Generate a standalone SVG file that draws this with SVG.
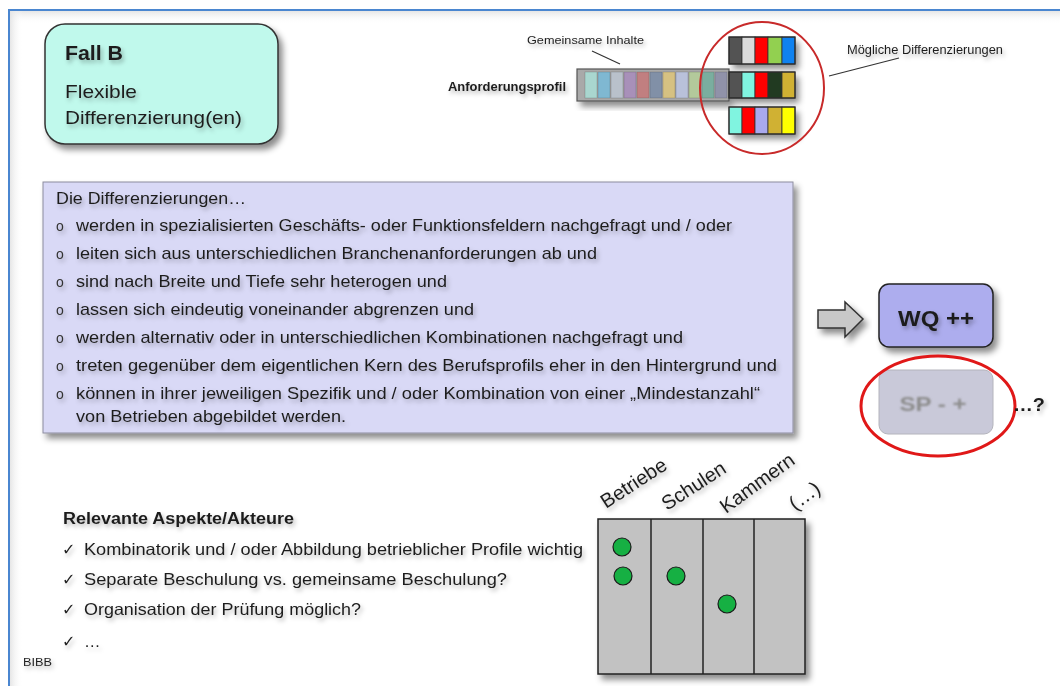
<svg xmlns="http://www.w3.org/2000/svg" width="1060" height="686" viewBox="0 0 1060 686">
  <defs>
    <filter id="boxShadow" x="-10%" y="-10%" width="130%" height="140%">
      <feDropShadow dx="4" dy="5" stdDeviation="3" flood-color="#000" flood-opacity="0.45"/>
    </filter>
    <filter id="textShadow" x="-5%" y="-40%" width="115%" height="200%">
      <feDropShadow dx="2" dy="3" stdDeviation="2" flood-color="#000" flood-opacity="0.28"/>
    </filter>
    <filter id="soft" x="-10%" y="-20%" width="120%" height="140%">
      <feGaussianBlur stdDeviation="0.9"/>
    </filter>
    <linearGradient id="edgeTop" x1="0" y1="0" x2="0" y2="1">
      <stop offset="0" stop-color="#e2e2e2"/>
      <stop offset="1" stop-color="#ffffff" stop-opacity="0"/>
    </linearGradient>
    <linearGradient id="edgeLeft" x1="0" y1="0" x2="1" y2="0">
      <stop offset="0" stop-color="#e2e2e2"/>
      <stop offset="1" stop-color="#ffffff" stop-opacity="0"/>
    </linearGradient>
  </defs>
  <style>
    .t { font-family: "Liberation Sans", Arial, sans-serif; fill: #1e1e1e; }
    .b { font-weight: bold; }
    .body { font-size: 17px; }
    .chk { font-family: "DejaVu Sans", sans-serif; font-size: 16px; fill: #1e1e1e; }
    .bul { font-family: "Liberation Sans", Arial, sans-serif; font-size: 14px; fill: #333; }
    .slot { stroke: #333; stroke-width: 0.8; }
    .row { fill: none; stroke: #2a2a2a; stroke-width: 1.2; }
    .dot { fill: #16b043; stroke: #1a1a1a; stroke-width: 1.2; }
    .col { stroke: #222; stroke-width: 1.5; }
    .lead { stroke: #333; stroke-width: 1.2; fill: none; }
    .ring { fill: none; }
    .lbl { font-size: 20px; }
  </style>

  <!-- page frame -->
  <rect x="0" y="0" width="1060" height="686" fill="#ffffff"/>
  <rect x="9" y="10" width="1051" height="14" fill="url(#edgeTop)"/>
  <rect x="9" y="10" width="14" height="676" fill="url(#edgeLeft)"/>
  <line x1="8" y1="10" x2="1060" y2="10" stroke="#4a86d0" stroke-width="2"/>
  <line x1="9" y1="10" x2="9" y2="686" stroke="#4a86d0" stroke-width="2"/>

  <!-- title card -->
  <g id="title">
    <rect x="45" y="24" width="233" height="120" rx="20" fill="#c0f9ec" stroke="#333" stroke-width="1.5" filter="url(#boxShadow)"/>
    <g filter="url(#textShadow)">
      <text class="t b" x="65" y="60" font-size="19.5" textLength="58" lengthAdjust="spacingAndGlyphs">Fall B</text>
      <text class="t" x="65" y="98" font-size="19" textLength="72" lengthAdjust="spacingAndGlyphs">Flexible</text>
      <text class="t" x="65" y="124" font-size="19" textLength="177" lengthAdjust="spacingAndGlyphs">Differenzierung(en)</text>
    </g>
  </g>

  <!-- requirement profile: shared contents -->
  <g id="profile">
    <rect x="577" y="69" width="152" height="32" fill="#a9a9a9" stroke="#555" stroke-width="1.2" filter="url(#boxShadow)"/>
    <g class="slot" stroke-opacity="0.25">
      <rect x="585" y="72" width="12" height="26" fill="#a9d6cf"/>
      <rect x="598" y="72" width="12" height="26" fill="#7fb8d2"/>
      <rect x="611" y="72" width="12" height="26" fill="#b9c1cb"/>
      <rect x="624" y="72" width="12" height="26" fill="#a890b9"/>
      <rect x="637" y="72" width="12" height="26" fill="#c17f80"/>
      <rect x="650" y="72" width="12" height="26" fill="#8190a7"/>
      <rect x="663" y="72" width="12" height="26" fill="#d6c182"/>
      <rect x="676" y="72" width="12" height="26" fill="#b9c1da"/>
      <rect x="689" y="72" width="12" height="26" fill="#b3c99b"/>
      <rect x="702" y="72" width="12" height="26" fill="#7aae9f"/>
      <rect x="715" y="72" width="12" height="26" fill="#9092a9"/>
    </g>
    <g filter="url(#textShadow)">
      <text class="t b" x="448" y="91" font-size="13" textLength="118" lengthAdjust="spacingAndGlyphs">Anforderungsprofil</text>
      <text class="t" x="527" y="44" font-size="11.5" textLength="117" lengthAdjust="spacingAndGlyphs">Gemeinsame Inhalte</text>
    </g>
  </g>

  <!-- possible differentiations -->
  <g id="differenzierungen">
    <g filter="url(#boxShadow)">
      <rect x="729" y="37" width="66" height="27" fill="#555"/>
      <rect x="729" y="72" width="66" height="26" fill="#555"/>
      <rect x="729" y="107" width="66" height="27" fill="#555"/>
    </g>
    <g class="slot">
      <rect x="729" y="37" width="13" height="27" fill="#535353"/>
      <rect x="742" y="37" width="13" height="27" fill="#dadada"/>
      <rect x="755" y="37" width="13" height="27" fill="#ff0000"/>
      <rect x="768" y="37" width="14" height="27" fill="#92d050"/>
      <rect x="782" y="37" width="13" height="27" fill="#0f82f0"/>

      <rect x="729" y="72" width="13" height="26" fill="#535353"/>
      <rect x="742" y="72" width="13" height="26" fill="#80f4e0"/>
      <rect x="755" y="72" width="13" height="26" fill="#ff0000"/>
      <rect x="768" y="72" width="14" height="26" fill="#213a21"/>
      <rect x="782" y="72" width="13" height="26" fill="#d0b133"/>

      <rect x="729" y="107" width="13" height="27" fill="#80f4e0"/>
      <rect x="742" y="107" width="13" height="27" fill="#ff0000"/>
      <rect x="755" y="107" width="13" height="27" fill="#a9a9ee"/>
      <rect x="768" y="107" width="14" height="27" fill="#d0b133"/>
      <rect x="782" y="107" width="13" height="27" fill="#ffff00"/>
    </g>
    <rect class="row" x="729" y="37" width="66" height="27"/>
    <rect class="row" x="729" y="72" width="66" height="26"/>
    <rect class="row" x="729" y="107" width="66" height="27"/>
    <ellipse class="ring" cx="762" cy="88" rx="62" ry="66" stroke="#c82a2a" stroke-width="2"/>
    <text class="t" x="847" y="54" font-size="12" textLength="156" lengthAdjust="spacingAndGlyphs" filter="url(#textShadow)">Mögliche Differenzierungen</text>
  </g>

  <!-- characteristics text block -->
  <g id="merkmale">
    <rect x="43" y="182" width="750" height="251" fill="#d9d9f6" stroke="#8c8c9e" stroke-width="1" filter="url(#boxShadow)"/>
    <g filter="url(#textShadow)">
      <text class="t body" x="56" y="204" textLength="190" lengthAdjust="spacingAndGlyphs">Die Differenzierungen…</text>
      <text class="bul" x="56" y="231">o</text>
      <text class="t body" x="76" y="231" textLength="656" lengthAdjust="spacingAndGlyphs">werden in spezialisierten Geschäfts- oder Funktionsfeldern nachgefragt und / oder</text>
      <text class="bul" x="56" y="259">o</text>
      <text class="t body" x="76" y="259" textLength="521" lengthAdjust="spacingAndGlyphs">leiten sich aus unterschiedlichen Branchenanforderungen ab und</text>
      <text class="bul" x="56" y="287">o</text>
      <text class="t body" x="76" y="287" textLength="371" lengthAdjust="spacingAndGlyphs">sind nach Breite und Tiefe sehr heterogen und</text>
      <text class="bul" x="56" y="315">o</text>
      <text class="t body" x="76" y="315" textLength="398" lengthAdjust="spacingAndGlyphs">lassen sich eindeutig voneinander abgrenzen und</text>
      <text class="bul" x="56" y="343">o</text>
      <text class="t body" x="76" y="343" textLength="607" lengthAdjust="spacingAndGlyphs">werden alternativ oder in unterschiedlichen Kombinationen nachgefragt und</text>
      <text class="bul" x="56" y="371">o</text>
      <text class="t body" x="76" y="371" textLength="701" lengthAdjust="spacingAndGlyphs">treten gegenüber dem eigentlichen Kern des  Berufsprofils eher in den Hintergrund und</text>
      <text class="bul" x="56" y="399">o</text>
      <text class="t body" x="76" y="399" textLength="684" lengthAdjust="spacingAndGlyphs">können in ihrer jeweiligen Spezifik und / oder Kombination von einer „Mindestanzahl“</text>
      <text class="t body" x="76" y="422" textLength="270" lengthAdjust="spacingAndGlyphs">von Betrieben abgebildet werden.</text>
    </g>
  </g>

  <!-- result: further qualification -->
  <g id="wq">
    <rect x="879" y="284" width="114" height="63" rx="10" fill="#adadee" stroke="#222" stroke-width="1.5" filter="url(#boxShadow)"/>
    <text class="t b" x="936" y="326" font-size="22" text-anchor="middle" textLength="76" lengthAdjust="spacingAndGlyphs" filter="url(#textShadow)">WQ ++</text>
  </g>

  <!-- result: focus area (uncertain) -->
  <g id="sp">
    <rect x="879" y="370" width="114" height="64" rx="9" fill="#c9c9d9" stroke="#b4b4bc" stroke-width="1"/>
    <text class="t b" x="933" y="411" font-size="21" text-anchor="middle" textLength="67" lengthAdjust="spacingAndGlyphs" style="fill:#8c8c8c" filter="url(#soft)">SP - +</text>
    <ellipse class="ring" cx="938" cy="406" rx="77" ry="50" stroke="#e01818" stroke-width="3"/>
    <text class="t b" x="1013" y="411" font-size="18" textLength="32" lengthAdjust="spacingAndGlyphs" filter="url(#textShadow)">…?</text>
  </g>

  <!-- aspects / actors list -->
  <g id="aspekte">
    <g filter="url(#textShadow)">
      <text class="t b" x="63" y="524" font-size="16" textLength="231" lengthAdjust="spacingAndGlyphs">Relevante Aspekte/Akteure</text>
      <text class="chk" x="62" y="555">✓</text>
      <text class="t" x="84" y="555" font-size="16.5" textLength="499" lengthAdjust="spacingAndGlyphs">Kombinatorik und / oder Abbildung betrieblicher Profile wichtig</text>
      <text class="chk" x="62" y="585">✓</text>
      <text class="t" x="84" y="585" font-size="16.5" textLength="423" lengthAdjust="spacingAndGlyphs">Separate Beschulung vs. gemeinsame Beschulung?</text>
      <text class="chk" x="62" y="615">✓</text>
      <text class="t" x="84" y="615" font-size="16.5" textLength="277" lengthAdjust="spacingAndGlyphs">Organisation der Prüfung möglich?</text>
      <text class="chk" x="62" y="647">✓</text>
      <text class="t" x="84" y="647" font-size="16.5">…</text>
      <text class="t" x="23" y="666" font-size="11" textLength="29" lengthAdjust="spacingAndGlyphs">BIBB</text>
    </g>
  </g>

  <!-- actors grid -->
  <g id="akteure">
    <rect x="598" y="519" width="207" height="155" fill="#c2c2c2" stroke="#222" stroke-width="1.5" filter="url(#boxShadow)"/>
    <line class="col" x1="651" y1="519" x2="651" y2="674"/>
    <line class="col" x1="703" y1="519" x2="703" y2="674"/>
    <line class="col" x1="754" y1="519" x2="754" y2="674"/>
    <circle class="dot" cx="622" cy="547" r="9"/>
    <circle class="dot" cx="623" cy="576" r="9"/>
    <circle class="dot" cx="676" cy="576" r="9"/>
    <circle class="dot" cx="727" cy="604" r="9"/>
    <g filter="url(#textShadow)">
      <text class="t lbl" transform="translate(606,509) rotate(-33)">Betriebe</text>
      <text class="t lbl" transform="translate(667,511) rotate(-33)">Schulen</text>
      <text class="t lbl" transform="translate(726,514) rotate(-36)">Kammern</text>
      <text class="t lbl" transform="translate(795,511) rotate(-36)">(…)</text>
    </g>
  </g>

  <!-- connectors -->
  <g id="connectors">
    <line class="lead" x1="592" y1="51" x2="620" y2="64"/>
    <line class="lead" x1="829" y1="76" x2="899" y2="58"/>
    <path d="M818,310 H845 V302 L863,319 L845,337 V328 H818 Z" fill="#c8c8c8" stroke="#333" stroke-width="1.5" filter="url(#boxShadow)"/>
  </g>
</svg>
